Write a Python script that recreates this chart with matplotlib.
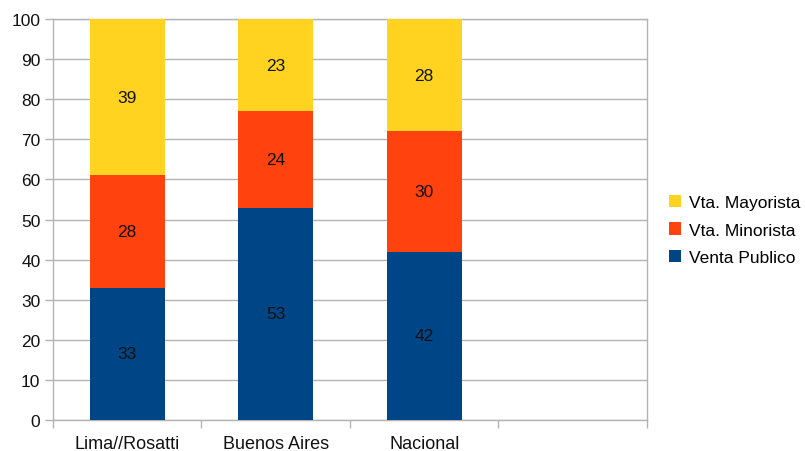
import numpy as np
import matplotlib.pyplot as plt

plt.rcParams['font.family'] = ['Liberation Sans', 'DejaVu Sans']

categories = ['Lima//Rosatti', 'Buenos Aires', 'Nacional']
venta_publico = [33, 53, 42]
vta_minorista = [28, 24, 30]
vta_mayorista = [39, 23, 28]

series = [
    ('Venta Publico', venta_publico, '#004586'),
    ('Vta. Minorista', vta_minorista, '#ff420e'),
    ('Vta. Mayorista', vta_mayorista, '#ffd320'),
]

fig = plt.figure(figsize=(8.05, 4.52), dpi=100)
ax = fig.add_axes([0.0658, 0.0686, 0.7379, 0.887])

x = np.arange(len(categories))
bottom = np.zeros(len(categories))
handles = []
for name, vals, color in series:
    vals = np.array(vals, dtype=float)
    bars = ax.bar(x, vals, width=0.505, bottom=bottom, color=color, label=name, zorder=3)
    handles.append(bars)
    for xi, b, v in zip(x, bottom, vals):
        ax.text(xi, b + v / 2, f'{v:g}', ha='center', va='center', fontsize=12.5, color='#111111', zorder=4)
    bottom += vals

# four category slots, the last one left empty
ax.set_xlim(-0.5, 3.5)
ax.set_ylim(0, 100)
ax.set_yticks(np.arange(0, 101, 10))
ax.set_xticks(np.arange(-0.5, 3.6, 1.0))
ax.set_xticklabels([])
ax.set_xticks(x, minor=True)
ax.set_xticklabels(categories, minor=True)
ax.tick_params(axis='x', which='minor', length=0, pad=11, labelsize=13, labelcolor='#111111')
ax.tick_params(axis='x', which='major', length=6, color='#b3b3b3', width=1)
ax.tick_params(axis='y', length=6, color='#b3b3b3', width=1, labelsize=12.5, labelcolor='#111111', pad=3)

ax.grid(axis='y', color='#b3b3b3', linewidth=1, zorder=0)
for s in ax.spines.values():
    s.set_color('#b3b3b3')
    s.set_linewidth(1)

fig.legend(handles[::-1], [h.get_label() for h in handles[::-1]],
           loc='center left', bbox_to_anchor=(0.822, 0.489), frameon=False,
           fontsize=12.5, handlelength=0.7, handleheight=0.7, handletextpad=0.5,
           labelspacing=0.7, borderaxespad=0)

fig.savefig('out.png', dpi=100)
